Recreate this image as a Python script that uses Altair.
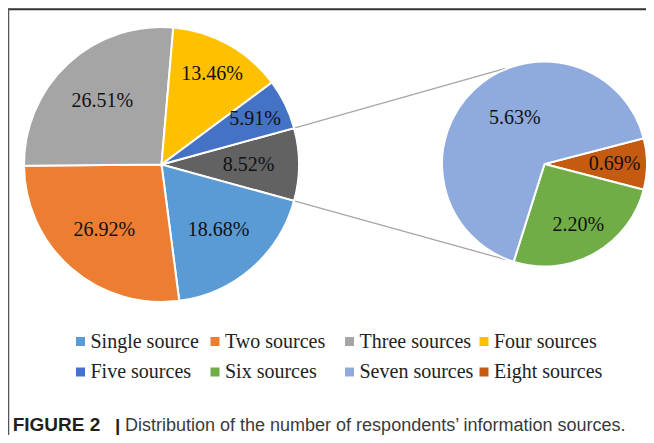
import math
import altair as alt
import pandas as pd

# ---------------- data ----------------
main_labels = ["Other", "Single source", "Two sources", "Three sources", "Four sources", "Five sources"]
main_values = [8.52, 18.68, 26.92, 26.51, 13.46, 5.91]
sub_labels = ["Eight sources", "Six sources", "Seven sources"]
sub_values = [0.69, 2.20, 5.63]
legend_order = ["Single source", "Two sources", "Three sources", "Four sources",
                "Five sources", "Six sources", "Seven sources", "Eight sources"]
color_domain = ["Single source", "Two sources", "Three sources", "Four sources",
                "Five sources", "Six sources", "Seven sources", "Eight sources", "Other"]
color_range = ["#5B9BD5", "#ED7D31", "#A5A5A5", "#FFC000",
               "#4472C4", "#70AD47", "#8FAADC", "#C55A11", "#626262"]
outer_label_slices = ["Four sources", "Five sources"]
caption_bold = "FIGURE 2"
caption_bar = "|"
caption_text = "Distribution of the number of respondents\u2019 information sources."

# ---------------- layout ----------------
W, H = 638, 427
L_CX, L_CY, L_R = 153.5, 156.5, 137.5
R_CX, R_CY, R_R = 536.5, 156.0, 102.5
SERIF = "Liberation Serif"
SANS = "Liberation Sans"

left_total = sum(main_values)
right_total = sum(sub_values)
left_start = math.pi / 2 - (main_values[0] / left_total) * math.pi
right_start = math.pi / 2 - (sub_values[0] / right_total) * math.pi

left_df = pd.DataFrame({"label": main_labels, "value": main_values, "ord": list(range(len(main_labels)))})
right_df = pd.DataFrame({"label": sub_labels, "value": sub_values, "ord": list(range(len(sub_labels)))})

color_scale = alt.Scale(domain=color_domain, range=color_range)
legend = alt.Legend(
    values=legend_order, orient="none", legendX=62.5, legendY=323.5, direction="horizontal",
    columns=4, title=None, symbolType="square", symbolSize=81, symbolStrokeWidth=0,
    labelFont=SERIF, labelFontSize=20, labelColor="#222222", labelOffset=0,
    columnPadding=0.5, rowPadding=10.5, gridAlign="all", labelLimit=400, padding=0,
)
txt_common = dict(font=SERIF, fontSize=20, color="#111111", baseline="middle", align="center")


def theta_scale(start, total):
    return alt.Scale(domain=[0, total], range=[start, start + 2 * math.pi])


def pie_arc(df, cx, cy, r, start, total, legend_def):
    return alt.Chart(df).mark_arc(outerRadius=r, stroke="white", strokeWidth=2).encode(
        theta=alt.Theta("value:Q", stack=True, scale=theta_scale(start, total)),
        order=alt.Order("ord:Q"),
        x=alt.value(cx), y=alt.value(cy),
        color=alt.Color("label:N", scale=color_scale, legend=legend_def),
    )


def pie_text(df, cx, cy, start, total, names, radius, dx=0, dy=0):
    return alt.Chart(df).transform_window(
        cum="sum(value)", sort=[alt.SortField("ord")], frame=[None, 0]
    ).transform_calculate(
        mid="datum.cum - datum.value / 2",
        lab="format(datum.value, '.2f') + '%'",
    ).transform_filter(
        alt.FieldOneOfPredicate(field="label", oneOf=names)
    ).mark_text(radius=radius, dx=dx, dy=dy, **txt_common).encode(
        theta=alt.Theta("mid:Q", stack=None, scale=theta_scale(start, total)),
        x=alt.value(cx), y=alt.value(cy), text="lab:N",
    )


# left pie
l_arc = pie_arc(left_df, L_CX, L_CY, L_R, left_start, left_total, legend)
l_text_in = pie_text(left_df, L_CX, L_CY, left_start, left_total,
                     [l for l in main_labels if l not in outer_label_slices], 87)
l_text_out = pie_text(left_df, L_CX, L_CY, left_start, left_total, outer_label_slices, 104)
left_layer = alt.layer(l_arc, l_text_in, l_text_out)

# right pie
r_arc = pie_arc(right_df, R_CX, R_CY, R_R, right_start, right_total, legend)
r_text_small = pie_text(right_df, R_CX, R_CY, right_start, right_total,
                        ["Eight sources", "Six sources"], 70)
r_text_big = pie_text(right_df, R_CX, R_CY, right_start, right_total,
                      ["Seven sources"], 56, dx=9, dy=-5)
right_layer = alt.layer(r_arc, r_text_small, r_text_big)

# connector lines: from edges of the aggregated slice towards tangent points on the secondary pie
frac_other = main_values[0] / left_total
angles = [left_start, left_start + frac_other * 2 * math.pi]
rows = []
for k, a in enumerate(angles):
    px = L_CX + L_R * math.sin(a)
    py = L_CY - L_R * math.cos(a)
    vx, vy = px - R_CX, py - R_CY
    d = math.hypot(vx, vy)
    alpha = math.acos(R_R / d)
    base_ang = math.atan2(vy, vx)
    sign = 1 if k == 0 else -1
    t_ang = base_ang + sign * alpha
    tx = R_CX + R_R * math.cos(t_ang)
    ty = R_CY + R_R * math.sin(t_ang)
    f = 0.95
    rows.append({"x": px, "y": py, "x2": px + (tx - px) * f, "y2": py + (ty - py) * f})
conn_df = pd.DataFrame(rows)
xs = alt.Scale(domain=[0, W], range=[0, W], nice=False, zero=False)
ys = alt.Scale(domain=[0, H], range=[0, H], nice=False, zero=False)
connectors = alt.Chart(conn_df).mark_rule(color="#A6A6A6", strokeWidth=1.3).encode(
    x=alt.X("x:Q", scale=xs, axis=None), y=alt.Y("y:Q", scale=ys, axis=None),
    x2="x2:Q", y2="y2:Q")

# frame lines (top and left)
frame_top = alt.Chart(pd.DataFrame({"k": [0]})).mark_rule(color="#333333", strokeWidth=2).encode(
    x=alt.value(0), x2=alt.value(W + 6), y=alt.value(1.3))
frame_left = alt.Chart(pd.DataFrame({"k": [0]})).mark_rule(color="#555555", strokeWidth=1.5).encode(
    x=alt.value(0.5), y=alt.value(0.5), y2=alt.value(H + 8))

# caption
cap_b = alt.Chart(pd.DataFrame({"t": [caption_bold]})).mark_text(
    align="left", baseline="alphabetic", font=SANS, fontSize=19, fontWeight="bold", color="#231F20"
).encode(x=alt.value(4.7), y=alt.value(423), text="t:N")
cap_bar = alt.Chart(pd.DataFrame({"t": [caption_bar]})).mark_text(
    align="left", baseline="alphabetic", font=SANS, fontSize=19, fontWeight="bold", color="#231F20"
).encode(x=alt.value(107), y=alt.value(424), text="t:N")
cap_r = alt.Chart(pd.DataFrame({"t": [caption_text]})).mark_text(
    align="left", baseline="alphabetic", font=SANS, fontSize=18, color="#3A3A3A"
).encode(x=alt.value(117), y=alt.value(423), text="t:N")

chart = alt.layer(
    connectors, left_layer, right_layer, frame_top, frame_left, cap_b, cap_bar, cap_r
).resolve_scale(theta="independent").properties(
    width=W, height=H, padding=0, autosize=alt.AutoSizeParams(type="none"),
    background="white",
).configure_view(stroke=None)

chart.save("out.html", embed_options={"renderer": "svg", "actions": False})
